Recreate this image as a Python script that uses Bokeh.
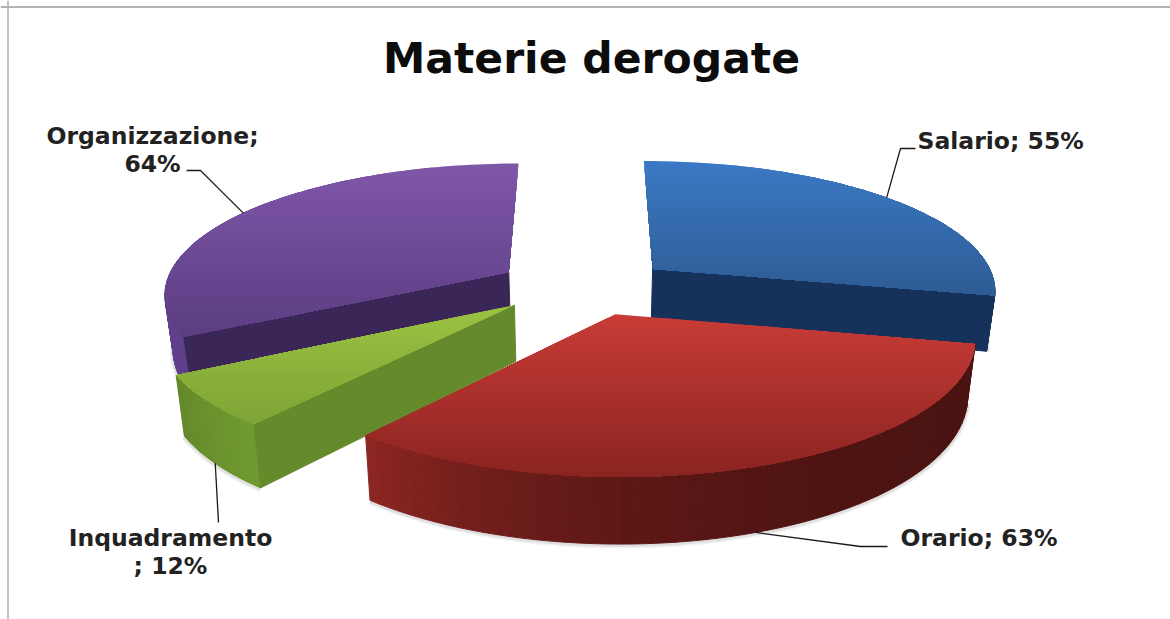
import numpy as np
from bokeh.plotting import figure
from bokeh.models import Range1d, ColumnDataSource, Span
from bokeh.core.properties import value
from bokeh.embed import file_html
from bokeh.resources import INLINE

title_text = "Materie derogate"
names = ["Salario", "Orario", "Inquadramento", "Organizzazione"]
values = [55, 63, 12, 64]
label_lines = [["Salario; 55%"], ["Orario; 63%"], ["Inquadramento", "; 12%"], ["Organizzazione;", "64%"]]

top_colors = [("#3B79C4", "#2E5C94"), ("#C83C37", "#8A2420"), ("#9CC243", "#7EA436"), ("#7F57A9", "#5C3D82")]
radial_colors = ["#16315A", None, "#648A2C", "#3A2757"]
wall_colors = [("#1B3A66", "#1B3A66"), ("#4A1311", "#8C2622"), ("#6F9A30", "#64892B"), ("#5E3F8A", "#63438F")]
wall_gamma = [1.0, 3.0, 1.0, 1.0]
wall_extent = [(0.7, 1.0), (0.0, 1.0), (0.0, 1.0), (0.0, 0.55)]

# projection of the tilted pie onto the page
CX, CY, RX, RY = 584.0, 286.0, 344.0, 129.0
PERSP, EXPLODE, DEPTH, SHRINK = 0.15, 0.26, 55.0, 0.98

W, H = 1170, 619
p = figure(width=W, height=H, output_backend="svg", toolbar_location=None,
           x_range=Range1d(0, W), y_range=Range1d(H, 0), min_border=0,
           background_fill_color="white", border_fill_color="white")
p.axis.visible = False
p.grid.visible = False
p.outline_line_color = None


def proj(theta, off):
    X = off[0] + np.sin(theta)
    Y = off[1] + np.cos(theta)
    return place(X, Y)


def place(X, Y):
    s = 1.0 / (1.0 + PERSP * Y)
    return CX + RX * X * s, CY - RY * Y * s, s


def lower(x, y, s):
    return CX + (x - CX) * SHRINK, y + DEPTH * s


def mix(c0, c1, t):
    a = np.array([int(c0[i:i + 2], 16) for i in (1, 3, 5)], float)
    b = np.array([int(c1[i:i + 2], 16) for i in (1, 3, 5)], float)
    m = a + (b - a) * t
    return "#%02x%02x%02x" % tuple(int(round(v)) for v in m)


def clip_below(pts, y0):
    out = []
    n = len(pts)
    for i in range(n):
        a, b = pts[i], pts[(i + 1) % n]
        ina, inb = a[1] >= y0, b[1] >= y0
        if ina:
            out.append(a)
        if ina != inb:
            t = (y0 - a[1]) / (b[1] - a[1])
            out.append((a[0] + t * (b[0] - a[0]), y0))
    return out


total = sum(values)
edges = np.cumsum([0] + values) / total * 2 * np.pi
mids = (edges[:-1] + edges[1:]) / 2
offs = [(EXPLODE * np.sin(m), EXPLODE * np.cos(m) * 0.85) for m in mids]


def draw_radial(i, theta):
    off = offs[i]
    ax, ay, asc = place(*off)
    ex, ey, esc = proj(theta, off)
    axb, ayb = lower(ax, ay, asc)
    exb, eyb = lower(ex, ey, esc)
    p.patch([ax, ex, exb, axb], [ay, ey, eyb, ayb], fill_color=radial_colors[i],
            line_color=radial_colors[i], line_width=1)


def draw_wall(i):
    off = offs[i]
    span = edges[i + 1] - edges[i]
    th = np.linspace(edges[i] + span * wall_extent[i][0], edges[i] + span * wall_extent[i][1], 61)
    xs, ys, cs = [], [], []
    for k in range(len(th) - 1):
        x0, y0, s0 = proj(th[k], off)
        x1, y1, s1 = proj(th[k + 1], off)
        bx0, by0 = lower(x0, y0, s0)
        bx1, by1 = lower(x1, y1, s1)
        xs.append([x0, x1, bx1, bx0])
        ys.append([y0, y1, by1, by0])
        t = (k / (len(th) - 2)) ** wall_gamma[i]
        cs.append(mix(wall_colors[i][0], wall_colors[i][1], t))
    # soft shadow just below the wall
    bx, by = zip(*[lower(*proj(t, off)) for t in th])
    for w, a in ((7, 0.07), (4, 0.12)):
        p.line(list(bx), [v + 1 for v in by], line_color="#555555", line_alpha=a, line_width=w)
    src = ColumnDataSource(dict(xs=xs, ys=ys, c=cs))
    p.patches("xs", "ys", source=src, fill_color="c", line_color="c", line_width=1)


def draw_top(i):
    off = offs[i]
    th = np.linspace(edges[i], edges[i + 1], 90)
    ax, ay, _ = place(*off)
    px, py, _ = proj(th, off)
    pts = [(ax, ay)] + list(zip(px, py))
    ymin = min(q[1] for q in pts)
    ymax = max(q[1] for q in pts)
    levels = np.linspace(ymin, ymax, 41)[:-1]
    xs, ys, cs = [], [], []
    for k, lv in enumerate(levels):
        c = clip_below(pts, lv)
        if len(c) < 3:
            continue
        xs.append([q[0] for q in c])
        ys.append([q[1] for q in c])
        cs.append(mix(top_colors[i][0], top_colors[i][1], k / (len(levels) - 1)))
    src = ColumnDataSource(dict(xs=xs, ys=ys, c=cs))
    p.patches("xs", "ys", source=src, fill_color="c", line_color=None)


# back-to-front: Salario, Organizzazione, Inquadramento, Orario
draw_wall(0)
draw_radial(0, edges[1])
draw_top(0)

draw_wall(3)
draw_radial(3, edges[3])
draw_top(3)

draw_wall(2)
draw_radial(2, edges[2])
draw_top(2)

draw_wall(1)
draw_top(1)

# frame
p.add_layout(Span(location=6.5, dimension="width", line_color="#9a9a9a", line_width=1.5))
p.add_layout(Span(location=7.5, dimension="height", line_color="#b0b0b0", line_width=1.5))

# title
p.text([591], [58], text=[title_text], text_font=value("DejaVu Sans"), text_font_style="bold",
       text_font_size="42.5px", text_align="center", text_color="#0c0c0c", text_baseline="middle")

# leaders: start on the slice at its mid angle, then layout elbows
anchor = []
for i, m in enumerate(mids):
    x, y, s = proj(m, offs[i])
    if i in (1, 2):
        x, y = lower(x, y, s)
    anchor.append((x, y))
elbows = [[(900, 148), (915, 148)], [(860, 546), (887, 546)], [(218, 522)], [(200, 170), (186, 170)]]
for a, e in zip(anchor, elbows):
    p.line([a[0]] + [q[0] for q in e], [a[1]] + [q[1] for q in e], line_color="#1a1a1a", line_width=1.3)

# labels
label_pos = [(917, 140, "left"), (900, 537, "left"), (170, 537, "center"), (152, 135, "center")]
for lines, (x, y, al) in zip(label_lines, label_pos):
    for j, t in enumerate(lines):
        p.text([x], [y + j * 28], text=[t], text_font=value("DejaVu Sans"), text_font_size="23.5px",
               text_font_style="bold", text_align=al, text_color="#222222", text_baseline="middle")

open("out.html", "w").write(file_html(p, INLINE))
